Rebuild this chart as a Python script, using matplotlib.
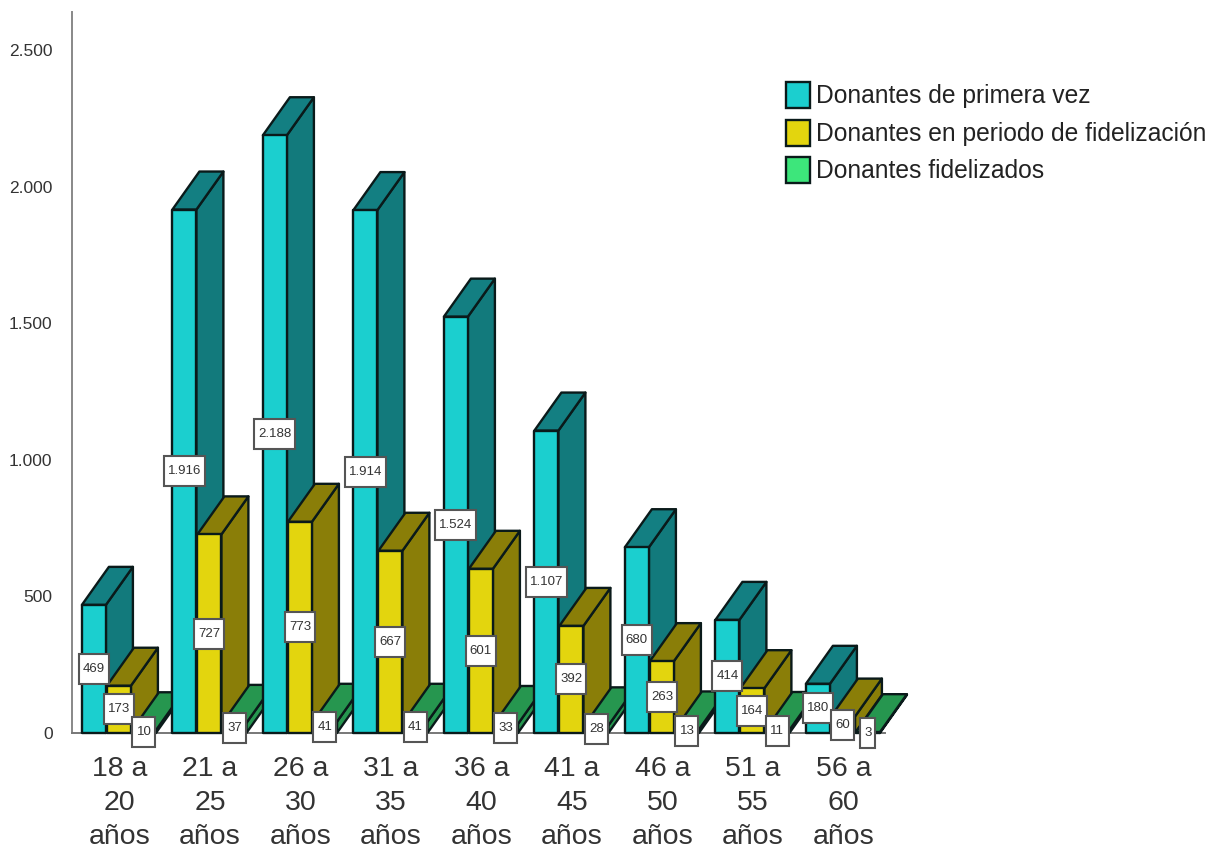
"""
Donantes por grupo de edad: 3D style clustered bars with boxed value labels
"""

import matplotlib
matplotlib.use('Agg')
import matplotlib.pyplot as plt
from matplotlib.patches import Patch, Polygon, Rectangle

plt.rcParams['font.family'] = ['Liberation Sans', 'DejaVu Sans']

age_groups = ['18 a\n20\naños', '21 a\n25\naños', '26 a\n30\naños',
              '31 a\n35\naños', '36 a\n40\naños', '41 a\n45\naños',
              '46 a\n50\naños', '51 a\n55\naños', '56 a\n60\naños']
primera_vez = [469, 1916, 2188, 1914, 1524, 1107, 680, 414, 180]
en_fidelizacion = [173, 727, 773, 667, 601, 392, 263, 164, 60]
fidelizados = [10, 37, 41, 41, 33, 28, 13, 11, 3]
series_names = ['Donantes de primera vez',
                'Donantes en periodo de fidelización',
                'Donantes fidelizados']
y_ticks = [0, 500, 1000, 1500, 2000, 2500]

# front, side, top
COLORS = [('#1BCFCF', '#127A7C', '#137F82'),
          ('#E3D50E', '#8A7E08', '#8A7E08'),
          ('#3DE67B', '#26964F', '#26964F')]
EDGE = '#0A1A1A'

PX_PER_GROUP = 90.5
PX_PER_UNIT = 0.2732
BAR_W = 24 / PX_PER_GROUP
BAR_STEP = 25 / PX_PER_GROUP
BAR_SHIFT = -0.6 / PX_PER_GROUP
DEPTH_X = 27 / PX_PER_GROUP
DEPTH_Y = 38 / PX_PER_UNIT


def fmt(v):
    return f'{v:,}'.replace(',', '.')


def draw_bar(ax, x0, v, cols):
    x1 = x0 + BAR_W
    style = dict(edgecolor=EDGE, linewidth=1.7, joinstyle='round',
                 clip_on=False, zorder=3)
    ax.add_patch(Polygon([(x1, 0), (x1 + DEPTH_X, DEPTH_Y),
                          (x1 + DEPTH_X, v + DEPTH_Y), (x1, v)],
                         facecolor=cols[1], **style))
    ax.add_patch(Polygon([(x0, v), (x1, v), (x1 + DEPTH_X, v + DEPTH_Y),
                          (x0 + DEPTH_X, v + DEPTH_Y)],
                         facecolor=cols[2], **style))
    ax.add_patch(Rectangle((x0, 0), BAR_W, v, facecolor=cols[0], **style))


def draw_label(ax, xc, v):
    txt = fmt(v)
    w_px = {1: 15, 2: 23, 3: 30, 5: 41}[len(txt)]
    w = w_px / PX_PER_GROUP
    h = 30 / PX_PER_UNIT
    ax.add_patch(Rectangle((xc - w / 2, v / 2 - h / 2), w, h, facecolor='white',
                           edgecolor='#555555', linewidth=1.5, clip_on=False,
                           zorder=5))
    ax.text(xc, v / 2, txt, ha='center', va='center', fontsize=9.5,
            color='#333333', zorder=6, clip_on=False)


def create_figure():
    fig = plt.figure(figsize=(12.12, 8.48), dpi=100)
    ax = fig.add_axes([72 / 1212, 1 - 733 / 848, (910 - 72) / 1212, (733 - 12) / 848])
    ax.set_xlim((72 - 119.5) / PX_PER_GROUP, (910 - 119.5) / PX_PER_GROUP)
    ax.set_ylim(0, 721 / PX_PER_UNIT)
    ax.patch.set_alpha(0)

    series = [primera_vez, en_fidelizacion, fidelizados]
    for g in range(len(age_groups)):
        for s, values in enumerate(series):
            x0 = g + (s - 1) * BAR_STEP - BAR_W / 2 + BAR_SHIFT
            draw_bar(ax, x0, values[g], COLORS[s])
    for g in range(len(age_groups)):
        for s, values in enumerate(series):
            draw_label(ax, g + (s - 1) * BAR_STEP + BAR_SHIFT, values[g])

    ax.set_xticks(range(len(age_groups)))
    ax.set_xticklabels(age_groups, fontsize=20.5, color='#333333', linespacing=1.4)
    ax.set_yticks(y_ticks)
    ax.set_yticklabels([fmt(t) for t in y_ticks], fontsize=12.5, color='#333333')
    ax.tick_params(axis='x', length=0, pad=16.5)
    ax.tick_params(axis='y', length=0, pad=14)

    ax.spines['top'].set_visible(False)
    ax.spines['right'].set_visible(False)
    ax.spines['left'].set_color('#888888')
    ax.spines['bottom'].set_color('#777777')
    ax.spines['left'].set_linewidth(1.4)
    ax.spines['bottom'].set_linewidth(1.4)
    ax.spines['bottom'].set_bounds((72 - 119.5) / PX_PER_GROUP,
                                   (885 - 119.5) / PX_PER_GROUP)

    handles = [Patch(facecolor=c[0], edgecolor=EDGE, linewidth=1.7) for c in COLORS]
    fig.legend(handles, series_names, loc='upper left',
               bbox_to_anchor=(786 / 1212, 1 - 82 / 848), frameon=False,
               fontsize=17.7, handlelength=0.98, handleheight=1.25,
               handletextpad=0.25, labelspacing=0.46, borderpad=0, borderaxespad=0,
               labelcolor='#222222')

    fig.savefig('out.png', dpi=100, facecolor='white')


if __name__ == "__main__":
    create_figure()
